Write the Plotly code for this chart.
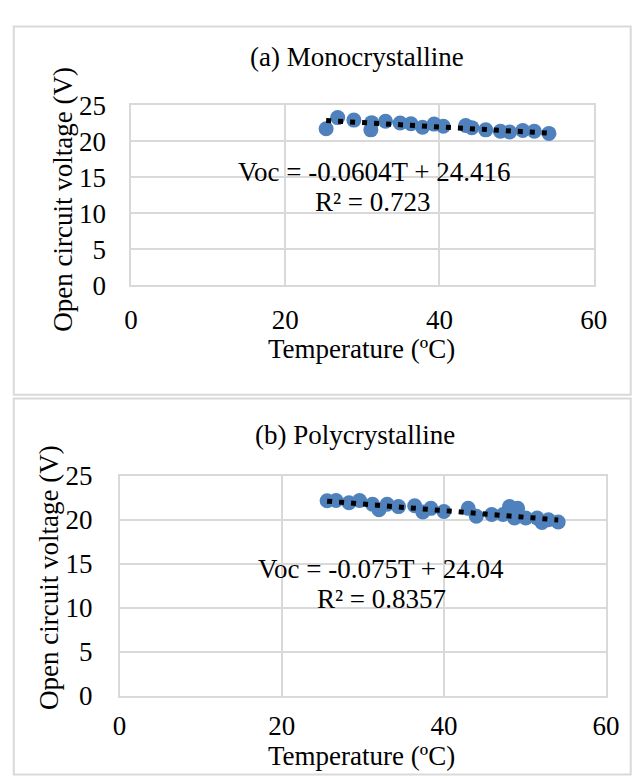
import plotly.graph_objects as go
import numpy as np

# ---- data ----
mono_T = [25.3, 26.8, 28.9, 31.2, 31.1, 33.0, 34.9, 36.3, 37.8, 39.3, 40.5, 43.4, 44.2, 46.0, 47.9, 49.1, 50.8, 52.3, 54.2]
mono_V = [21.75, 23.3, 22.95, 22.6, 21.6, 22.8, 22.55, 22.45, 21.95, 22.4, 22.1, 22.2, 21.9, 21.6, 21.4, 21.3, 21.5, 21.4, 21.1]
mono_slope, mono_icpt = -0.0604, 24.416
mono_r2 = 0.723

poly_T = [25.6, 26.7, 28.3, 29.6, 31.2, 32.0, 33.0, 34.4, 36.4, 37.4, 38.4, 40.0, 43.0, 44.0, 45.9, 47.3, 48.1, 49.1, 48.7, 50.1, 51.5, 52.1, 52.9, 54.1]
poly_V = [22.16, 22.2, 21.94, 22.2, 21.76, 21.14, 21.76, 21.5, 21.6, 20.9, 21.3, 20.95, 21.3, 20.4, 20.6, 20.6, 21.5, 21.3, 20.2, 20.2, 20.2, 19.7, 20.0, 19.75]
poly_slope, poly_icpt = -0.075, 24.04
poly_r2 = 0.8357

x_ticks = [0, 20, 40, 60]
y_ticks = [0, 5, 10, 15, 20, 25]

W, H = 636, 778
FONT = "Times New Roman, Liberation Serif, serif"
FS = 27
BLUE = "#4F81BD"
GRID = "#d9d9d9"

def px(x):
    return x / W

def py(y):
    return 1 - y / H

fig = go.Figure()

def add_panel(T, V, slope, icpt, xa, ya):
    fig.add_trace(go.Scatter(x=T, y=V, mode="markers", xaxis=xa, yaxis=ya,
                             marker=dict(color=BLUE, size=15, line=dict(width=0)),
                             showlegend=False, hoverinfo="skip"))
    tx = np.array([min(T), max(T)])
    fig.add_trace(go.Scatter(x=tx, y=slope * tx + icpt, mode="lines", xaxis=xa, yaxis=ya,
                             line=dict(color="black", width=5, dash="5px,7px"),
                             showlegend=False, hoverinfo="skip"))

add_panel(mono_T, mono_V, mono_slope, mono_icpt, "x", "y")
add_panel(poly_T, poly_V, poly_slope, poly_icpt, "x2", "y2")

def axis(domain, anchor, vals, rng, standoff):
    return dict(domain=domain, anchor=anchor, range=rng, tickvals=vals,
                showgrid=True, gridcolor=GRID, gridwidth=1.5,
                showline=True, linecolor=GRID, linewidth=1.5, mirror=True,
                zeroline=False, ticks="", ticklabelstandoff=standoff,
                tickfont=dict(family=FONT, size=FS, color="black"), fixedrange=True)

fig.update_layout(
    width=W, height=H, margin=dict(l=0, r=0, t=0, b=0),
    paper_bgcolor="white", plot_bgcolor="white",
    font=dict(family=FONT, size=FS, color="black"),
    xaxis=axis([px(128.3), px(606.7)], "y", x_ticks, [0, 60], 10),
    yaxis=axis([py(281), py(94)], "x", y_ticks, [0, 25], 18),
    xaxis2=axis([px(116.4), px(619.5)], "y2", x_ticks, [0, 60], 5),
    yaxis2=axis([py(708), py(479.3)], "x2", y_ticks, [0, 25], 20),
)

# outer chart boxes
fig.add_shape(type="rect", xref="paper", yref="paper", x0=px(7), x1=px(645), y0=py(395), y1=py(12),
              line=dict(color=GRID, width=2), fillcolor="rgba(0,0,0,0)")
fig.add_shape(type="rect", xref="paper", yref="paper", x0=px(7), x1=px(645), y0=py(790), y1=py(399),
              line=dict(color=GRID, width=2), fillcolor="rgba(0,0,0,0)")

def text(x, y, s, angle=0):
    fig.add_annotation(x=px(x), y=py(y), xref="paper", yref="paper", text=s, showarrow=False,
                       xanchor="center", yanchor="middle", textangle=angle,
                       font=dict(family=FONT, size=FS, color="black"))

text(362, 44, "(a) Monocrystalline")
text(367, 347, "Temperature (ºC)")
text(57, 192, "Open circuit voltage (V)", -90)
text(380, 163, f"Voc = {mono_slope}T + {mono_icpt}")
text(378, 194, f"R² = {mono_r2}")

text(360, 437, "(b) Polycrystalline")
text(367, 771, "Temperature (ºC)")
text(44, 585, "Open circuit voltage (V)", -90)
text(387, 576, f"Voc = {poly_slope}T + {poly_icpt}")
text(387, 607, f"R² = {poly_r2}")

fig.write_html("out.html")
